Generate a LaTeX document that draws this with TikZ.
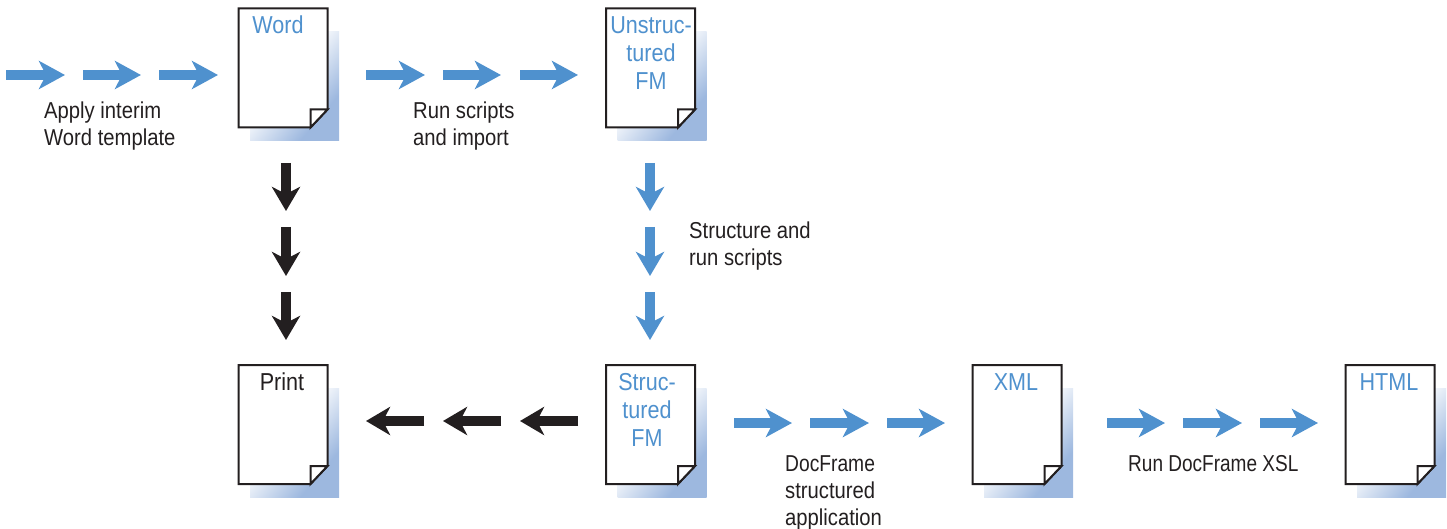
\documentclass[tikz,border=0pt]{standalone}
\usepackage{fontspec}
\setmainfont[FakeStretch=0.88]{Liberation Sans}
\usetikzlibrary{arrows.meta,calc}
\definecolor{flowblue}{HTML}{4F91CE}
\definecolor{inkblack}{HTML}{231F20}
\definecolor{shadeblue}{HTML}{9DB8DF}
\pgfdeclareverticalshading{docshade}{100bp}{color(0bp)=(white); color(41bp)=(white); color(70bp)=(shadeblue); color(100bp)=(shadeblue)}
\tikzset{
  x=1pt,y=-1pt,
  bluearrow/.style={draw=flowblue,line width=9.5pt,-{Stealth[length=26pt,width=28pt,inset=7pt,fill=flowblue]}},
  blackarrow/.style={draw=inkblack,line width=9.5pt,-{Stealth[length=24pt,width=28pt,inset=7pt,fill=inkblack]}},
  pagebody/.style={draw=none,minimum width=89pt,minimum height=119pt,inner sep=0pt,outer sep=0pt},
  pageline/.style={draw=inkblack,line width=2pt,line join=miter},
  note/.style={font=\fontsize{23}{27}\selectfont,text=inkblack,align=left,inner sep=0pt,anchor=north west},
  doctitle/.style={font=\fontsize{24.5}{28}\selectfont,align=center,inner sep=0pt,anchor=north},
}
\newcommand{\docpage}[3]{% name, x-left, y-top
  \node[pagebody,anchor=north west] (#1) at (#2,#3) {};
  \shade[shading=docshade,shading angle=-130]
    ([shift={(11.5,23)}]#1.north west) rectangle ([shift={(11.5,13.5)}]#1.south east);
  \draw[pageline,fill=white] (#1.north west) -- (#1.north east) -- ([shift={(0,-18)}]#1.south east)
    -- ([shift={(-17,0)}]#1.south east) -- (#1.south west) -- cycle;
  \draw[pageline,fill=white] ([shift={(0,-18)}]#1.south east) -- ([shift={(-17,-18)}]#1.south east)
    -- ([shift={(-17,0)}]#1.south east) -- cycle;
}
\begin{document}
\begin{tikzpicture}
\useasboundingbox (0,0) rectangle (1447,529);
\docpage{word}{238.5}{8.5}
\docpage{unstructured}{606}{8.5}
\docpage{print}{238.5}{365}
\docpage{structured}{606}{365}
\docpage{xml}{972.5}{365}
\docpage{html}{1345.5}{365}

\node[doctitle,text=flowblue] (wordtitle) at (278,16) {Word};
\node[doctitle,text=flowblue] (unstitle) at (651,16) {Unstruc-\\tured\\FM};
\node[doctitle,text=inkblack] (printtitle) at (282,373) {Print};
\node[doctitle,text=flowblue] (strtitle) at (647,373) {Struc-\\tured\\FM};
\node[doctitle,text=flowblue] (xmltitle) at (1016,373) {XML};
\node[doctitle,text=flowblue] (htmltitle) at (1389,373) {HTML};

\foreach \n/\a/\b/\y in {a/6/65/75,b/83/141/75,c/159/218/75,d/366/425/75,e/443/501/75,f/520/578/75,
  g/734/792/423,h/810/869/423,i/887/945/423,j/1107/1165/423,k/1183/1242/423,l/1260/1318/423}{
  \coordinate (\n s) at (\a,\y);
  \coordinate (\n t) at (\b,\y);
  \draw[bluearrow] (\n s) -- (\n t);
}
\foreach \n/\a/\b in {m/578/520,n/501/443,o/424/366}{
  \coordinate (\n s) at (\a,421);
  \coordinate (\n t) at (\b,421);
  \draw[blackarrow] (\n s) -- (\n t);
}
\foreach \n/\a/\b in {p/163/211,q/227/276,r/292/340}{
  \coordinate (\n s) at (286,\a);
  \coordinate (\n t) at (286,\b);
  \draw[blackarrow] (\n s) -- (\n t);
  \coordinate (\n u) at (650,\a);
  \coordinate (\n v) at (650,\b);
  \draw[bluearrow,-{Stealth[length=24pt,width=28pt,inset=7pt,fill=flowblue]}] (\n u) -- (\n v);
}

\node[note] (applynote) at (44,102) {Apply interim\\Word template};
\node[note] (runnote) at (413,102) {Run scripts\\and import};
\node[note] (structnote) at (689,222) {Structure and\\run scripts};
\node[note] (docframenote) at (785,455) {\scalebox{0.95}[1]{DocFrame}\\structured\\application};
\node[note] (xslnote) at (1128,455) {\scalebox{0.94}[1]{Run DocFrame XSL}};
\end{tikzpicture}
\end{document}
